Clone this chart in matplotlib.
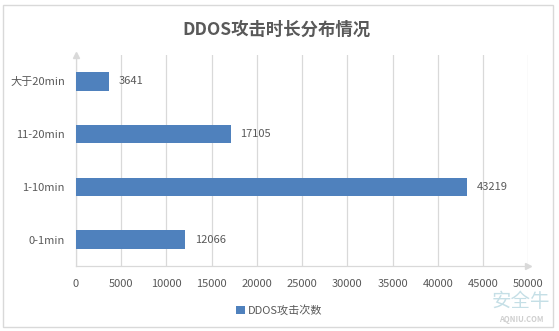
import matplotlib
matplotlib.use('Agg')
import matplotlib.pyplot as plt
from matplotlib.patches import Rectangle

plt.rcParams['font.family'] = ['Noto Sans CJK SC', 'DejaVu Sans']

# 数据
categories = ['0-1min', '1-10min', '11-20min', '大于20min']
counts = [12066, 43219, 17105, 3641]
x_ticks = [0, 5000, 10000, 15000, 20000, 25000, 30000, 35000, 40000, 45000, 50000]
series_name = 'DDOS攻击次数'
title = 'DDOS攻击时长分布情况'

bar_color = '#4F81BD'
text_color = '#595959'
grid_color = '#D9D9D9'

fig = plt.figure(figsize=(5.59, 3.31), dpi=100)
ax = fig.add_axes([0.136, 0.196, 0.809, 0.638])

# 外框
fig.patches.append(Rectangle((0.006, 0.013), 0.983, 0.972, transform=fig.transFigure,
                             fill=False, edgecolor='#D9D9D9', linewidth=1))

y = list(range(len(categories)))
bars = ax.barh(y, counts, height=0.35, color=bar_color, zorder=3, label=series_name)

for yi, v in zip(y, counts):
    ax.annotate(str(v), xy=(v, yi), xytext=(7, 0), textcoords='offset points',
                va='center', ha='left', fontsize=8, color=text_color)

ax.set_xlim(0, 50000)
ax.set_ylim(-0.5, len(categories) - 0.5)
ax.set_xticks(x_ticks)
ax.set_xticklabels([str(t) for t in x_ticks])
ax.set_yticks(y)
ax.set_yticklabels(categories)
ax.tick_params(axis='both', length=0, labelsize=8, labelcolor=text_color)
ax.tick_params(axis='y', pad=8)
ax.tick_params(axis='x', pad=9)

ax.grid(axis='x', color=grid_color, linewidth=0.9, zorder=0)
for s in ['top', 'right']:
    ax.spines[s].set_visible(False)
for s in ['left', 'bottom']:
    ax.spines[s].set_color(grid_color)
    ax.spines[s].set_linewidth(0.9)

# 坐标轴末端箭头
ax.plot(1, 0, '>', color=grid_color, markersize=5, transform=ax.transAxes, clip_on=False, zorder=4)
ax.plot(0, 1, '^', color=grid_color, markersize=5, transform=ax.transAxes, clip_on=False, zorder=4)

fig.text(0.494, 0.91, title, ha='center', va='center', fontsize=12.5,
         fontweight='bold', color=text_color)

fig.legend(handles=[bars], labels=[series_name], loc='center', bbox_to_anchor=(0.5, 0.062),
           frameon=False, fontsize=8, labelcolor=text_color, handlelength=0.8,
           handleheight=0.8, handletextpad=0.3)

# 水印
fig.text(0.932, 0.088, '安全牛', ha='center', va='center', fontsize=14,
         color='#9FCAD6', alpha=0.6)
fig.text(0.932, 0.035, 'AQNIU.COM', ha='center', va='center', fontsize=5.5,
         color='#B0B0B0', alpha=0.6, style='italic', fontweight='bold')

fig.savefig('out.png', dpi=100)
